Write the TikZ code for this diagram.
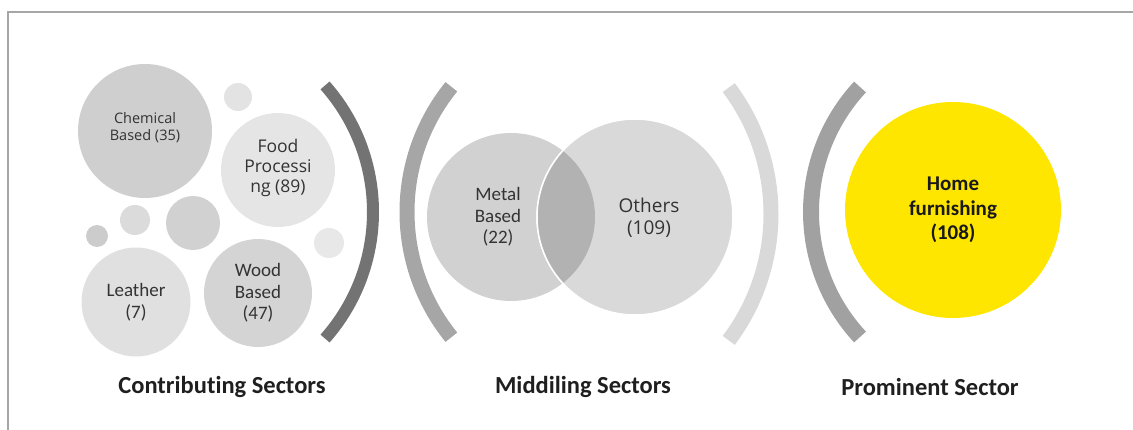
\documentclass[tikz,border=0pt]{standalone}
\usepackage{fontspec}
\setmainfont{Carlito}[Ligatures=NoCommon]
\newfontfamily\uifont{Open Sans}
\definecolor{txt}{HTML}{333333}
\definecolor{hilite}{HTML}{FFE600}
\begin{document}
\begin{tikzpicture}[x=1pt,y=-1pt,
  bubble/.style={circle, inner sep=0pt, outer sep=0pt, align=center, text=txt, minimum size=#1},
  bracketarc/.style={line width=#1},
  heading/.style={font=\bfseries\fontsize{24.5}{28}\selectfont, text=black!88},
  bubbletext/.style={font=\fontsize{19}{21.5}\selectfont, text=txt, align=center},
]
\useasboundingbox (0,0) rectangle (1133,430);
% page frame (top and left edges)
\draw[line width=2pt, gray!70] (8,430) -- (8,12) -- (1133,12);

% ---- contributing sectors: cluster of bubbles
\node[bubble=134pt, fill=black!19] (chem) at (145,131) {};
\node[bubble=28pt,  fill=black!11] (s1) at (238,97) {};
\node[bubble=114pt, fill=black!10] (food) at (278,170) {};
\node[bubble=30pt,  fill=black!14] (s2) at (135,220) {};
\node[bubble=54pt,  fill=black!18] (s3) at (193,223) {};
\node[bubble=22pt,  fill=black!20] (s4) at (97,236) {};
\node[bubble=30pt,  fill=black!9]  (s5) at (329,243) {};
\node[bubble=109pt, fill=black!12] (leather) at (136,302) {};
\node[bubble=108pt, fill=black!17] (wood) at (258,293) {};

\node[font=\uifont\fontsize{14.5}{17}\selectfont, text=txt, align=center] (chemt) at (chem.center) [yshift=3pt] {Chemical\\Based (35)};
\node[font=\uifont\fontsize{17.5}{20}\selectfont, text=txt, align=center] (foodt) at (food.center) [yshift=2pt] {Food\\Processi\\ng (89)};
\node[bubbletext] (leathert) at (leather.center) {Leather\\(7)};
\node[bubbletext] (woodt) at (wood.center) {Wood\\Based\\(47)};

\draw[bracketarc=12pt, black!55] (182,212) ++(-41.5:191) arc[start angle=-41.5, end angle=41.5, radius=191];
\node[heading] (lab1) at (222,387) {Contributing Sectors};

% ---- middling sectors: two overlapping circles
\draw[bracketarc=15pt, black!35] (606,212) ++(141:199) arc[start angle=141, end angle=219, radius=199];
\node[bubble=168pt, fill=black!18] (metal) at (511,217) {};
\node[bubble=196pt, fill=black!15, draw=white, line width=1.5pt] (others) at (635,217) {};
\begin{scope}
  \clip (511,217) circle[radius=84];
  \fill[black!30] (635,217) circle[radius=98];
  \draw[white, line width=1.5pt] (635,217) circle[radius=98];
\end{scope}
\node[bubbletext] (metalt) at (498,217) {Metal\\Based\\(22)};
\node[font=\uifont\fontsize{19}{21.5}\selectfont, text=txt, align=center] (otherst) at (649,218) {Others\\(109)};
\draw[bracketarc=15pt, black!15] (561,214) ++(-37:210) arc[start angle=-37, end angle=37, radius=210];
\node[heading] (lab2) at (583,387) {Middiling Sectors};

% ---- prominent sector
\draw[bracketarc=16pt, black!37] (995,212) ++(137.2:184) arc[start angle=137.2, end angle=222.8, radius=184];
\node[bubble=216pt, fill=hilite] (home) at (953,210) {};
\node[font=\bfseries\fontsize{21}{24.5}\selectfont, text=black!90, align=center] (homet) at (home.center) {Home\\furnishing\\(108)};
\node[heading] (lab3) at (930,387) {Prominent Sector};
\end{tikzpicture}
\end{document}
